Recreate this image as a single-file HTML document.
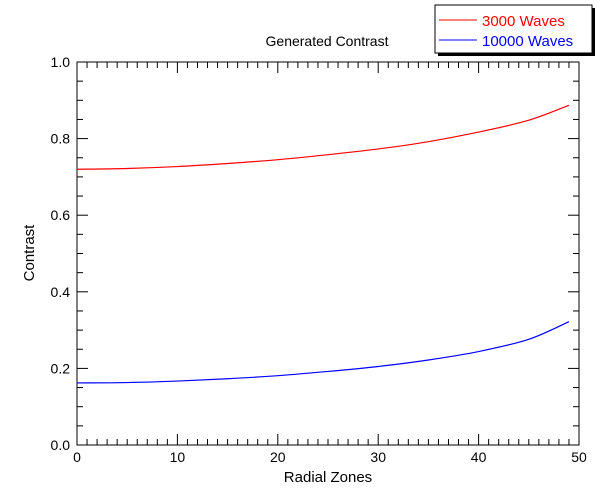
<!DOCTYPE html>
<html><head><meta charset="utf-8"><style>
body{margin:0;background:#fff;}
svg text{font-family:"Liberation Sans",sans-serif;}
</style></head><body>
<svg id="c" width="615" height="491" xmlns="http://www.w3.org/2000/svg">
<text x="327" y="46" font-size="14" text-anchor="middle">Generated Contrast</text>
<text x="328" y="482" font-size="15" text-anchor="middle">Radial Zones</text>
<text x="34" y="253" font-size="15" text-anchor="middle" transform="rotate(-90 34 253)">Contrast</text>
<g id="legend">
<rect x="438" y="8" width="157" height="48" fill="#000"/>
<rect x="435" y="5" width="157" height="48" fill="#fff" stroke="#000"/>
<line x1="439" y1="20" x2="477" y2="20" stroke="#f00"/>
<text x="482" y="26" font-size="15" fill="#f00">3000 Waves</text>
<line x1="439" y1="40" x2="477" y2="40" stroke="#00f"/>
<text x="482" y="46" font-size="15" fill="#00f">10000 Waves</text>
</g>
</svg>
<script>
const zones=[0,5,10,15,20,25,30,35,40,45,49];
const red3000=[0.72,0.722,0.727,0.735,0.745,0.758,0.773,0.792,0.817,0.848,0.887];
const blue10000=[0.162,0.163,0.167,0.173,0.181,0.192,0.205,0.222,0.244,0.276,0.322];
const xTicks=["0","10","20","30","40","50"];
const yTicks=["0.0","0.2","0.4","0.6","0.8","1.0"];
const L=77,R=579,T=62,B=445;
const sx=v=>L+(R-L)*v/50, sy=v=>B-(B-T)*v;
const svg=document.getElementById('c');
const NS='http://www.w3.org/2000/svg';
function mk(t,a){const e=document.createElementNS(NS,t);for(const k in a)e.setAttribute(k,a[k]);svg.appendChild(e);return e;}
const box=mk('rect',{x:L,y:T,width:R-L,height:B-T,fill:'none',stroke:'#000'});


for(let i=0;i<=50;i++){const x=sx(i),len=i%10==0?11:6;
 mk('line',{x1:x,y1:B,x2:x,y2:B-len,stroke:'#000'});mk('line',{x1:x,y1:T,x2:x,y2:T+len,stroke:'#000'});}
for(let i=0;i<=20;i++){const y=sy(i*0.05),len=i%4==0?11:6;
 mk('line',{x1:L,y1:y,x2:L+len,y2:y,stroke:'#000'});mk('line',{x1:R,y1:y,x2:R-len,y2:y,stroke:'#000'});}
xTicks.forEach((t,i)=>{const e=mk('text',{x:sx(i*10),y:B+17,'font-size':14,'text-anchor':'middle'});e.textContent=t;
 
 });
yTicks.forEach((t,i)=>{const e=mk('text',{x:L-7,y:sy(i*0.2)+5,'font-size':14,'text-anchor':'end'});e.textContent=t;
 
 });
function line(vals,col,name){
 // smooth via Catmull-Rom
 const p=zones.map((z,i)=>[sx(z),sy(vals[i])]);let d='M'+p[0];
 for(let i=0;i<p.length-1;i++){const p0=p[Math.max(0,i-1)],p1=p[i],p2=p[i+1],p3=p[Math.min(p.length-1,i+2)];
  d+=' C'+(p1[0]+(p2[0]-p0[0])/6)+','+(p1[1]+(p2[1]-p0[1])/6)+' '+(p2[0]-(p3[0]-p1[0])/6)+','+(p2[1]-(p3[1]-p1[1])/6)+' '+p2;}
 const e=mk('path',{d:d,fill:'none',stroke:col,'stroke-width':1.2});
 
 }
line(red3000,'#f00','series-3000-waves');
line(blue10000,'#00f','series-10000-waves');
</script>
</body></html>
